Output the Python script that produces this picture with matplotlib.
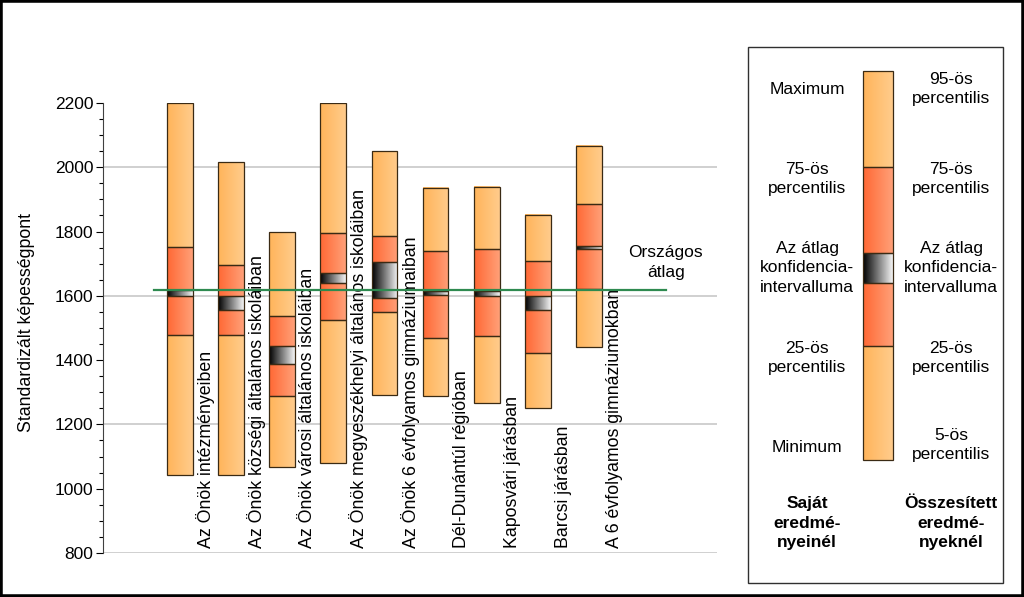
import numpy as np
import matplotlib
matplotlib.use('Agg')
import matplotlib.pyplot as plt
from matplotlib.patches import Rectangle
from matplotlib.ticker import MultipleLocator

plt.rcParams['font.family'] = ['Liberation Sans', 'DejaVu Sans']

# Data (standardised scores)
labels = ['Az Önök intézményeiben',
          'Az Önök községi általános iskoláiban',
          'Az Önök városi általános iskoláiban',
          'Az Önök megyeszékhelyi általános iskoláiban',
          'Az Önök 6 évfolyamos gimnáziumaiban',
          'Dél-Dunántúl régióban',
          'Kaposvári járásban',
          'Barcsi járásban',
          'A 6 évfolyamos gimnáziumokban']
p_low = [1044, 1044, 1068, 1081, 1293, 1288, 1268, 1252, 1440]
p25 = [1477, 1477, 1288, 1526, 1550, 1469, 1475, 1421, 1620]
ci_low = [1599, 1557, 1387, 1640, 1594, 1604, 1599, 1555, 1746]
ci_high = [1617, 1601, 1443, 1671, 1705, 1614, 1616, 1599, 1756]
p75 = [1752, 1696, 1537, 1795, 1787, 1740, 1746, 1707, 1885]
p_high = [2200, 2015, 1798, 2200, 2051, 1937, 1939, 1853, 2066]
national_avg = 1618

# colours
LIGHT = ('#ffb45a', '#ffcc8c')
RED = ('#ff6834', '#ffa078')
CI = ('#000000', '#f4f4f4')
EDGE = '#3a2a14'


def gradient(c1, c2, n=64):
    a = np.array(matplotlib.colors.to_rgb(c1))
    b = np.array(matplotlib.colors.to_rgb(c2))
    t = np.linspace(0, 1, n)[:, None]
    return (a + (b - a) * t)[None, :, :]


def segment(ax, x0, x1, y0, y1, cols):
    ax.imshow(gradient(*cols), extent=[x0, x1, y0, y1], aspect='auto',
              interpolation='bilinear', zorder=2)
    ax.add_patch(Rectangle((x0, min(y0, y1)), x1 - x0, abs(y1 - y0), fill=False,
                           ec=EDGE, lw=0.9, zorder=3))


def box(ax, xc, w, lo, q1, cl, ch, q3, hi):
    x0, x1 = xc - w / 2, xc + w / 2
    segment(ax, x0, x1, lo, q1, LIGHT)
    segment(ax, x0, x1, q1, cl, RED)
    segment(ax, x0, x1, cl, ch, CI)
    segment(ax, x0, x1, ch, q3, RED)
    segment(ax, x0, x1, q3, hi, LIGHT)


W, H = 1024, 597
fig = plt.figure(figsize=(W / 100, H / 100), dpi=100)
ax = fig.add_axes([103 / W, (H - 553) / H, 614 / W, 450 / H])

for i in range(len(labels)):
    xc = i + 1.5
    box(ax, xc, 0.5, p_low[i], p25[i], ci_low[i], ci_high[i], p75[i], p_high[i])
    ax.text(i + 2, 816, labels[i], rotation=90, ha='center', va='bottom',
            fontsize=12.8, zorder=4)

for g in [800, 1200, 1600, 2000]:
    ax.axhline(g, color='#c8c8c8', lw=1.2, zorder=1)

ax.plot([1, 11], [national_avg, national_avg], color='#2e8a50', lw=1.6, zorder=5)
ax.text(11, 1704, 'Országos\nátlag', ha='center', va='center', fontsize=12.5,
        linespacing=1.35)

ax.set_xlim(0, 12)
ax.set_ylim(800, 2200)
ax.set_xticks([])
ax.yaxis.set_major_locator(MultipleLocator(200))
ax.yaxis.set_minor_locator(MultipleLocator(50))
ax.tick_params(axis='y', which='major', length=5, width=0.8, labelsize=12.5, pad=2)
ax.tick_params(axis='y', which='minor', length=3, width=0.8)
for s in ['top', 'right', 'bottom']:
    ax.spines[s].set_visible(False)
ax.spines['left'].set_linewidth(0.8)
ax.spines['left'].set_color('#404040')
fig.text(27 / W, 1 - 323 / H, 'Standardizált képességpont', rotation=90,
         ha='center', va='center', fontsize=12.8)

# legend panel, drawn in pixel coordinates
lg = fig.add_axes([0, 0, 1, 1])
lg.set_axis_off()
lg.patch.set_alpha(0)
lg.add_patch(Rectangle((748, 47), 255, 536, fill=False, ec='#303030', lw=1))
box(lg, 878, 30, 460, 346, 283, 253, 167, 71)
lg.set_xlim(0, W)
lg.set_ylim(H, 0)

left_txt = [('Maximum', 90), ('75-ös\npercentilis', 179),
            ('Az átlag\nkonfidencia-\nintervalluma', 268),
            ('25-ös\npercentilis', 358), ('Minimum', 447)]
right_txt = [('95-ös\npercentilis', 89), ('75-ös\npercentilis', 179),
             ('Az átlag\nkonfidencia-\nintervalluma', 268),
             ('25-ös\npercentilis', 358), ('5-ös\npercentilis', 445)]
for t, y in left_txt:
    lg.text(807, y, t, ha='center', va='center', fontsize=12.5, linespacing=1.4)
for t, y in right_txt:
    lg.text(951, y, t, ha='center', va='center', fontsize=12.5, linespacing=1.4)
lg.text(807, 523, 'Saját\neredmé-\nnyeinél', ha='center', va='center',
        fontsize=12.5, fontweight='bold', linespacing=1.4)
lg.text(951, 523, 'Összesített\neredmé-\nnyeknél', ha='center', va='center',
        fontsize=12.5, fontweight='bold', linespacing=1.4)

# outer frame
fig.patches.append(Rectangle((0, 0), 1, 1, transform=fig.transFigure, fill=False,
                             ec='black', lw=4))

fig.savefig('out.png', dpi=100)
